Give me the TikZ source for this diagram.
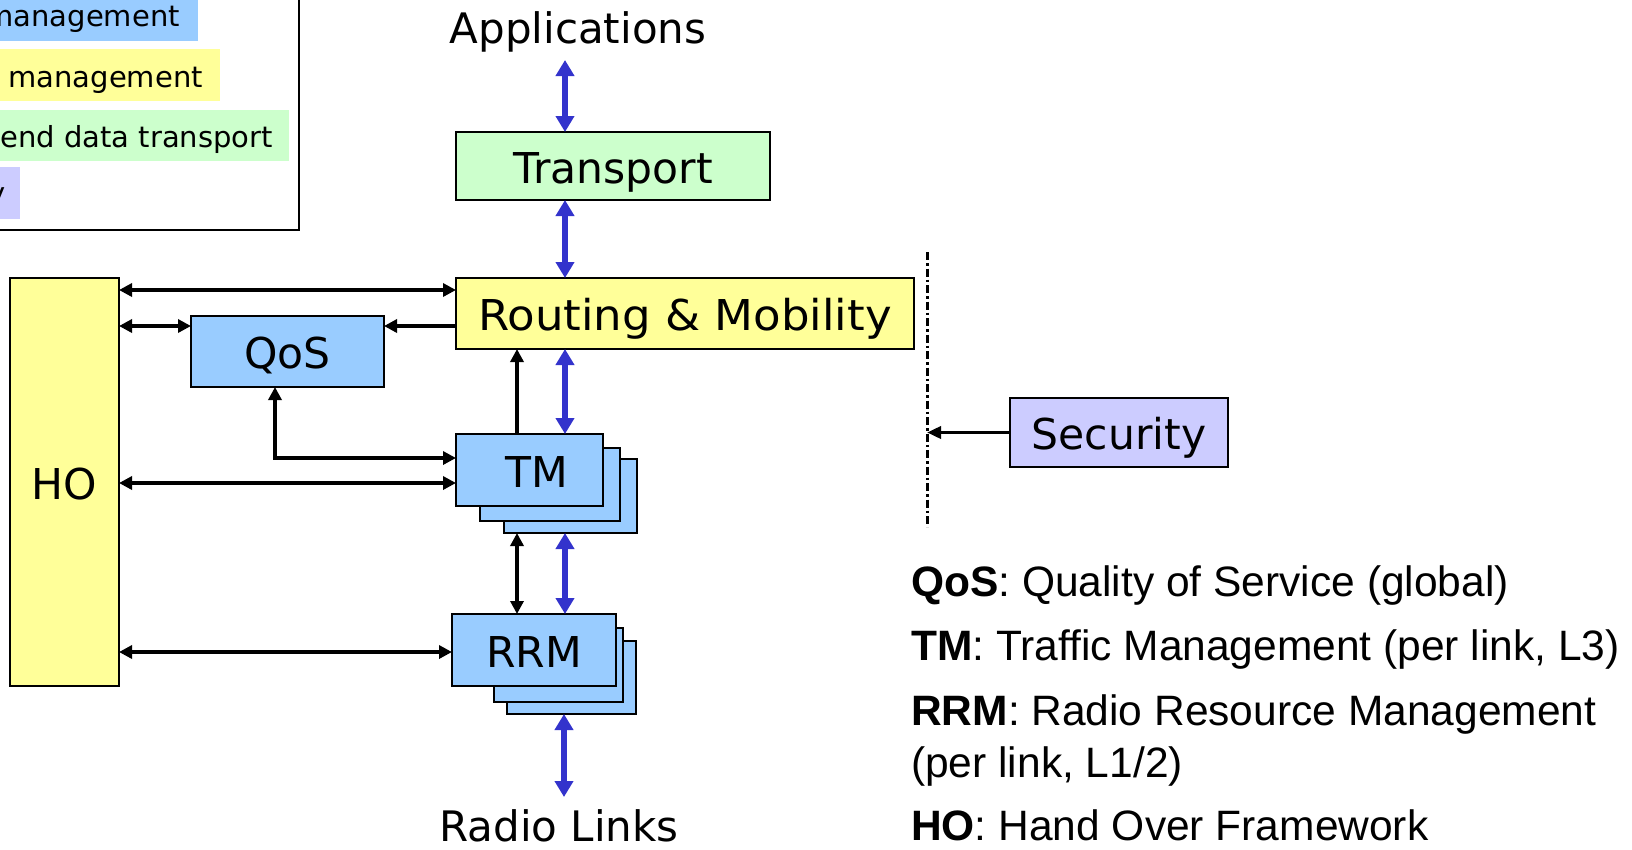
\documentclass[tikz,border=0pt]{standalone}
\usepackage{fontspec}
\setmainfont{DejaVu Sans}
\newfontfamily\deffont{Liberation Sans}
\newfontfamily\widefont[FakeStretch=1.06]{DejaVu Sans}
\usetikzlibrary{arrows.meta,calc}
\definecolor{cblue}{HTML}{99CCFF}
\definecolor{cyellow}{HTML}{FFFF99}
\definecolor{cgreen}{HTML}{CCFFCC}
\definecolor{clav}{HTML}{CCCCFF}
\definecolor{arrowblue}{HTML}{3333CC}
\begin{document}
\begin{tikzpicture}[x=1pt,y=-1pt,
  box/.style={draw=black, line width=1.8pt, inner sep=0pt, outer sep=0pt,
    font=\fontsize{42.5}{50}\selectfont, text height=34pt, text depth=0pt},
  bigtext/.style={inner sep=0pt, font=\fontsize{42}{50}\selectfont},
  legtext/.style={inner sep=0pt, anchor=base east, font=\fontsize{29}{34}\selectfont},
  deftext/.style={inner sep=0pt, anchor=base west, font=\deffont\fontsize{42.5}{48}\selectfont},
  bluearr/.style={draw=arrowblue, line width=6pt,
    {Triangle[length=16pt,width=18pt]}-{Triangle[length=16pt,width=18pt]}},
  blk/.style={draw=black, line width=3.5pt},
  blkboth/.style={blk, {Triangle[length=13pt,width=13pt]}-{Triangle[length=13pt,width=13pt]}},
  blkend/.style={blk, -{Triangle[length=13pt,width=13pt]}},
  dashdot/.style={draw=black, line width=3pt, dash pattern=on 8pt off 3pt on 2.5pt off 3pt}
]
\useasboundingbox (0,0) rectangle (1632,849);

% legend (partly outside the picture)
\fill[cblue] (-10,-10) rectangle (198,41);
\fill[cyellow] (-10,49) rectangle (220,101);
\fill[cgreen] (-10,110) rectangle (289,161);
\fill[clav] (-10,167) rectangle (20,219);
\node[legtext] (lg1) at (180,26) {management};
\node[legtext] (lg2) at (203,87) {management};
\node[legtext] (lg3) at (273,147) {end data transport};
\node[legtext] (lg4) at (6,203) {y};
\draw[line width=1.5pt] (299,-5) -- (299,230) -- (-5,230);

% guide coordinates
\coordinate (bx) at (565,0);
\coordinate (kx) at (517,0);
\coordinate (qx) at (275,0);
\coordinate (r1) at (0,290);
\coordinate (r2) at (0,326);
\coordinate (r3) at (0,458);
\coordinate (r4) at (0,483);
\coordinate (r5) at (0,652);
\coordinate (ddtop) at (927,252);
\coordinate (ddbot) at (927,527);

% nodes
\node[bigtext, anchor=base] (app) at (578,43) {Applications};
\node[bigtext, anchor=base] (radio) at (559,841) {Radio Links};

\node[box, fill=cgreen, minimum width=314pt, minimum height=68pt] (tr) at (613,166) {Transport};
\node[box, fill=cyellow, minimum width=458pt, minimum height=71pt, font=\widefont\fontsize{42.5}{50}\selectfont] (rm) at (685,313.5) {Routing \& Mobility};
\node[box, fill=cblue, minimum width=193pt, minimum height=71pt] (qos) at (287.5,351.5) {QoS};
\node[box, fill=cyellow, minimum width=109pt, minimum height=408pt] (ho) at (64.5,482) {HO};

\node[box, fill=cblue, minimum width=133pt, minimum height=74pt] (tm3) at (570.5,496) {};
\node[box, fill=cblue, minimum width=140pt, minimum height=73pt] (tm2) at (550,484.5) {};
\node[box, fill=cblue, minimum width=147pt, minimum height=72pt] (tm) at (529.5,470) {\hspace*{14pt}TM};

\node[box, fill=cblue, minimum width=129pt, minimum height=73pt] (rrm3) at (571.5,677.5) {};
\node[box, fill=cblue, minimum width=129pt, minimum height=74pt] (rrm2) at (558.5,665) {};
\node[box, fill=cblue, minimum width=164pt, minimum height=72pt] (rrm) at (534,650) {RRM};

\node[box, fill=clav, minimum width=218pt, minimum height=69pt] (sec) at (1119,432.5) {Security};

% blue vertical connectors
\draw[bluearr] ($(app.base -| bx)+(0,17)$) -- (tr.north -| bx);
\draw[bluearr] (tr.south -| bx) -- (rm.north -| bx);
\draw[bluearr] (rm.south -| bx) -- (tm.north -| bx);
\draw[bluearr] (tm3.south -| bx) -- (rrm.north -| bx);
\draw[bluearr] ($(rrm3.south -| bx)+(-1,0)$) -- ($(radio.base -| bx)+(-1,-44)$);

% black connectors
\draw[blkend] (tm.north -| kx) -- (rm.south -| kx);
\draw[blkboth] (tm3.south -| kx) -- (rrm.north -| kx);
\draw[blkboth] (ho.east |- r1) -- (rm.west |- r1);
\draw[blkboth] (ho.east |- r2) -- (qos.west |- r2);
\draw[blkend] (rm.west |- r2) -- (qos.east |- r2);
\draw[blkboth] (qos.south -| qx) |- (tm.west |- r3);
\draw[blkboth] (ho.east |- r4) -- (tm.west |- r4);
\draw[blkboth] (ho.east |- r5) -- (rrm.west |- r5);

% security boundary
\draw[dashdot] (ddtop) -- (ddbot);
\draw[blk, -{Triangle[length=14pt,width=12pt]}] (sec.west) -- (ddtop |- sec.west);

% definitions
\node[deftext] (d1) at (911,596) {\textbf{QoS}: Quality of Service (global)};
\node[deftext] (d2) at (911,660) {\textbf{TM}: Traffic Management (per link, L3)};
\node[deftext] (d3) at (911,725) {\textbf{RRM}: Radio Resource Management};
\node[deftext] (d4) at (911,777) {(per link, L1/2)};
\node[deftext] (d5) at (911,840) {\textbf{HO}: Hand Over Framework};
\end{tikzpicture}
\end{document}
